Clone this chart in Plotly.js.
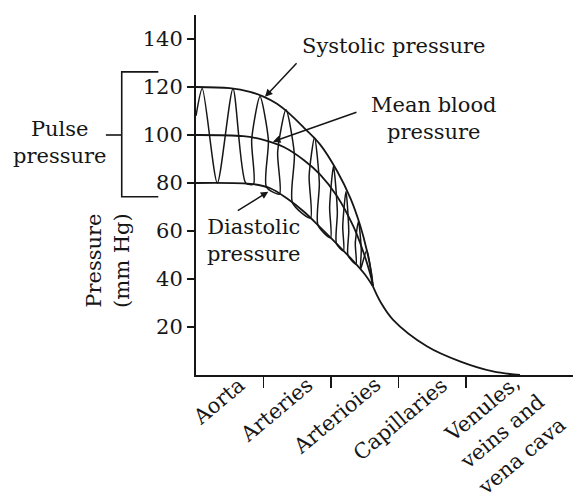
<!DOCTYPE html>
<html>
<head>
<meta charset="utf-8">
<script src="https://cdn.plot.ly/plotly-3.0.1.min.js"></script>
<style>html,body{margin:0;padding:0;background:#fff;}#chart{width:573px;height:502px;}</style>
</head>
<body>
<div id="chart"></div>
<script>
// Vessel categories (x axis)
const categories = ['Aorta', 'Arteries', 'Arterioies', 'Capillaries', 'Venules,<br>veins and<br>vena cava'];
const yTicks = [20, 40, 60, 80, 100, 120, 140];

// Pressure curves (x in vessel-segment units, y in mm Hg)
const systolicX = [0, 0.5, 0.8, 1.0, 1.2, 1.4, 1.6, 1.84, 2.09, 2.29, 2.43, 2.53, 2.6, 2.62];
const systolicY = [120, 119.5, 118, 116, 113, 108.5, 103, 96, 85, 73.5, 62.5, 52, 42, 37];

const meanX = [0, 0.7, 1.0, 1.3, 1.6, 1.84, 2.09, 2.33, 2.47, 2.6, 2.62];
const meanY = [100, 99.5, 98, 95, 89.5, 83.5, 74.5, 62, 52, 40, 37];

const diastolicX = [0, 0.85, 1.1, 1.35, 1.6, 1.84, 2.09, 2.33, 2.5, 2.62];
const diastolicY = [80, 79.5, 77.8, 73.5, 68, 61.5, 54.5, 47.5, 42, 37];

const venousX = [2.62, 2.73, 2.92, 3.42, 3.91, 4.4, 4.8];
const venousY = [37, 30.6, 23, 12, 5.7, 1.5, 0];

// Oscillating (pulsatile) pressure trace
const pulseX = [0, 0.093, 0.316, 0.548, 0.736,
  0.852, 0.825, 0.948, 1.072, 1.044,
  1.237, 1.21, 1.333, 1.457, 1.43,
  1.696, 1.676, 1.756, 1.827, 1.807,
  1.993, 1.98, 2.037, 2.094, 2.081,
  2.185, 2.174, 2.222, 2.263, 2.252,
  2.37, 2.36, 2.407, 2.448, 2.437,
  2.53, 2.62];
const pulseY = [108, 119.4, 80, 119.3, 80,
  79.5, 98, 116, 98, 78.3,
  75.4, 93, 110.5, 92, 71.7,
  65.4, 83, 99, 80, 62.4,
  57.2, 70, 87, 68, 54.7,
  51.7, 62, 76.5, 60, 49.8,
  46.2, 55, 64, 52, 44,
  52, 37];

const ink = '#161616';
const serif = 'DejaVu Serif, serif';
const fs = 21;

const line = (x, y, w, sm) => ({
  x: x, y: y, type: 'scatter', mode: 'lines',
  line: {color: ink, width: w, shape: 'spline', smoothing: sm},
  hoverinfo: 'skip', showlegend: false
});

const traces = [
  line(systolicX, systolicY, 1.8, 1),
  line(meanX, meanY, 1.8, 1),
  line(diastolicX, diastolicY, 1.8, 1),
  line(venousX, venousY, 1.8, 1),
  line(pulseX, pulseY, 1.5, 0.7)
];

const xRange = [0, 5.585];
const bounds = categories.slice(1).map((_, i) => i + 1);

// x-axis category labels, rotated, drawn as annotations under each segment
const labelAnns = [];
categories.forEach((c, i) => {
  const parts = c.split('<br>');
  if (parts.length === 1) {
    labelAnns.push({xref: 'x', yref: 'paper', x: i + 0.5, y: 0, text: c, textangle: -40,
      showarrow: false, xanchor: 'right', yanchor: 'top', xshift: 23, yshift: 5});
  } else {
    const mid = (parts.length - 1) / 2;
    parts.forEach((p, k) => {
      labelAnns.push({xref: 'x', yref: 'paper', x: i + 0.5, y: 0, text: p, textangle: -40,
        showarrow: false, xanchor: 'center', yanchor: 'middle',
        xshift: 2 + (k - mid) * 20, yshift: -57 - (k - mid) * 23.5});
    });
  }
});

const layout = {
  width: 573, height: 502,
  margin: {l: 196, r: 0, t: 15, b: 127, pad: 0},
  paper_bgcolor: '#fff', plot_bgcolor: '#fff',
  font: {family: serif, size: fs, color: ink},
  xaxis: {
    range: xRange, showgrid: false, zeroline: false,
    showline: true, linecolor: ink, linewidth: 2,
    tickmode: 'array', tickvals: bounds, showticklabels: false,
    ticks: 'outside', ticklen: 11, tickwidth: 1.6, tickcolor: ink
  },
  yaxis: {
    range: [0, 150], showgrid: false, zeroline: false,
    showline: true, linecolor: ink, linewidth: 2,
    tickmode: 'array', tickvals: yTicks, ticks: 'outside', ticklen: 7, tickwidth: 1.6, tickcolor: ink,
    tickfont: {family: serif, size: fs, color: ink}
  },
  shapes: [
    {type: 'path', xref: 'paper', yref: 'y', path: 'M -0.1 126.3 L -0.197 126.3 L -0.197 74.3 L -0.1 74.3',
      line: {color: ink, width: 1.6}},
    {type: 'line', xref: 'paper', yref: 'y', x0: -0.239, x1: -0.197, y0: 100, y1: 100,
      line: {color: ink, width: 1.6}}
  ],
  annotations: labelAnns.concat([
    {xref: 'paper', yref: 'y', x: -0.233, y: 47.6, text: 'Pressure<br>(mm Hg)', textangle: -90,
      showarrow: false, xanchor: 'center', yanchor: 'middle'},
    {xref: 'paper', yref: 'y', x: -0.363, y: 97, text: 'Pulse<br>pressure',
      showarrow: false, xanchor: 'center', yanchor: 'middle'},
    {x: 2.92, y: 137, text: 'Systolic pressure', showarrow: false, xanchor: 'center', yanchor: 'middle'},
    {x: 3.53, y: 107, text: 'Mean blood<br>pressure', showarrow: false, xanchor: 'center', yanchor: 'middle'},
    {x: 0.845, y: 55.9, text: 'Diastolic<br>pressure', showarrow: false, xanchor: 'center', yanchor: 'middle'},
    {x: 1.022, y: 115.9, text: '', showarrow: true, ax: 33, ay: -35, arrowhead: 2, arrowsize: 1, arrowwidth: 1.5, arrowcolor: ink},
    {x: 1.14, y: 97.2, text: '', showarrow: true, ax: 85, ay: -30, arrowhead: 2, arrowsize: 1, arrowwidth: 1.5, arrowcolor: ink},
    {x: 1.071, y: 76.4, text: '', showarrow: true, ax: -32, ay: 20, arrowhead: 2, arrowsize: 1, arrowwidth: 1.5, arrowcolor: ink}
  ])
};

Plotly.newPlot('chart', traces, layout, {staticPlot: true, displayModeBar: false});
</script>
</body>
</html>
